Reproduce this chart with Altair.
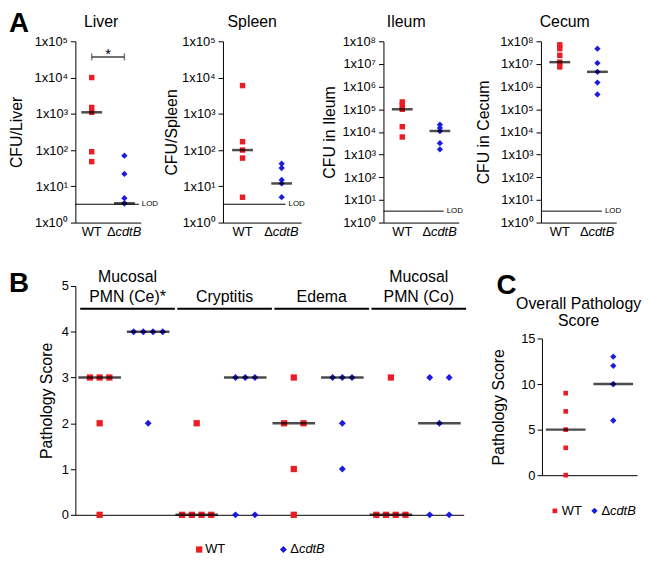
import altair as alt
import pandas as pd

FONT = "Liberation Sans"
RED = "#ec1c24"
BLUE = "#1a1ae0"

strains = ["WT", "ΔcdtB"]

# ---------------- Panel A: CFU (log scale) ----------------
organs = ["Liver", "Spleen", "Ileum", "Cecum"]
cfu_axis_titles = ["CFU/Liver", "CFU/Spleen", "CFU in Ileum", "CFU in Cecum"]
cfu_top_exponents = [5, 5, 8, 8]
wt_liver = [1.0e4, 1.5e3, 1.1e3, 90, 48]
dc_liver = [70, 22, 4.7, 3.4, 3.4]
wt_spleen = [6.0e3, 170, 100, 60, 5]
dc_spleen = [42, 32, 15, 12, 5]
wt_ileum = [2.1e5, 1.5e5, 1.0e5, 1.7e4, 6.0e3]
dc_ileum = [2.1e4, 1.5e4, 1.1e4, 3.2e3, 1.7e3]
wt_cecum = [7.0e7, 4.7e7, 2.4e7, 1.2e7, 7.4e6]
dc_cecum = [4.7e7, 1.1e7, 4.5e6, 1.5e6, 4.5e5]
median_liver = [1.1e3, 3.4]
median_spleen = [100, 12]
median_ileum = [1.0e5, 1.1e4]
median_cecum = [1.2e7, 4.5e6]
lod_cfu = 3.2
lod_line_end = [1.44, 1.1, 1.1, 1.12]
liver_sig_level = 3.7e4

# ---------------- Panel B: pathology scores ----------------
categories = [["Mucosal", "PMN (Ce)*"], ["Cryptitis"], ["Edema"], ["Mucosal", "PMN (Co)"]]
wt_scores = [[3, 3, 3, 2, 0], [2, 0, 0, 0, 0], [3, 2, 2, 1, 0], [3, 0, 0, 0, 0]]
dc_scores = [[4, 4, 4, 4, 2], [3, 3, 3, 0, 0], [3, 3, 3, 2, 1], [3, 3, 2, 0, 0]]
header_level = 4.5

# ---------------- Panel C: overall pathology ----------------
wt_overall = [9, 7, 5, 3, 0]
dc_overall = [13, 12, 10, 10, 6]

SUP_EXPR = ("'1x10' + ['\u2070','\u00b9','\u00b2','\u00b3','\u2074','\u2075',"
            "'\u2076','\u2077','\u2078'][round(log(datum.value)/LN10)]")


def text_mark(**kw):
    base = dict(font=FONT, color="black")
    base.update(kw)
    return alt.Chart(pd.DataFrame({"d": [0]})).mark_text(**base)


def strain_labels(X, height, size=13):
    lab = pd.DataFrame({"pos": [0, 1, 1], "t": ["WT", "Δ", "cdtB"]})
    wt = alt.Chart(lab).transform_filter("datum.t == 'WT'").mark_text(
        font=FONT, fontSize=size, color="black", align="center", baseline="alphabetic"
    ).encode(x=X, y=alt.value(height + 14), text="t:N")
    de = alt.Chart(lab).transform_filter("datum.t == 'Δ'").mark_text(
        font=FONT, fontSize=size, color="black", align="right", baseline="alphabetic", dx=-9
    ).encode(x=X, y=alt.value(height + 14), text="t:N")
    it = alt.Chart(lab).transform_filter("datum.t == 'cdtB'").mark_text(
        font=FONT, fontSize=size, color="black", align="left", baseline="alphabetic", dx=-9,
        fontStyle="italic"
    ).encode(x=X, y=alt.value(height + 14), text="t:N")
    return [wt, de, it]


def cfu_panel(i, wt, dc, med, width, title_dx, title_pad, height=183):
    top_exp = cfu_top_exponents[i]
    X = alt.X("pos:Q", scale=alt.Scale(domain=[-0.5, 1.5], nice=False, zero=False),
              axis=alt.Axis(labels=False, ticks=False, title=None, grid=False, domainColor="black"))
    Y = alt.Y("cfu:Q", scale=alt.Scale(type="log", domain=[1, 10 ** top_exp], nice=False),
              axis=alt.Axis(values=[10 ** k for k in range(top_exp + 1)], labelExpr=SUP_EXPR,
                            title=cfu_axis_titles[i], titlePadding=title_pad, tickSize=5,
                            labelFontSize=13, titleFontSize=16, labelPadding=3, grid=False))
    wt_df = pd.DataFrame({"pos": [0] * len(wt), "cfu": wt})
    dc_df = pd.DataFrame({"pos": [1] * len(dc), "cfu": dc})
    med_df = pd.DataFrame({"pos": [0, 1], "cfu": med})
    lod_df = pd.DataFrame({"pos": [-0.5], "pos2": [lod_line_end[i]], "cfu": [lod_cfu],
                           "lab_pos": [lod_line_end[i]], "t": ["LOD"]})
    layers = [
        alt.Chart(wt_df).mark_point(shape="square", filled=True, size=30, color=RED, opacity=1)
        .encode(x=X, y=Y),
        alt.Chart(dc_df).mark_point(shape="diamond", filled=True, size=40, color=BLUE, opacity=1)
        .encode(x=X, y=Y),
        alt.Chart(lod_df).mark_rule(color="black", strokeWidth=1).encode(x=X, x2="pos2:Q", y=Y),
        alt.Chart(lod_df).mark_text(font=FONT, fontSize=8, align="left", baseline="middle", dx=3,
                                    color="black")
        .encode(x=alt.X("lab_pos:Q"), y=Y, text="t:N"),
        alt.Chart(med_df).mark_tick(orient="horizontal", size=21, thickness=2.5, color="black")
        .encode(x=X, y=Y),
    ]
    layers += strain_labels(X, height)
    if i == 0:
        sig = pd.DataFrame({"pos": [0], "pos2": [1], "cfu": [liver_sig_level], "mid": [0.5], "t": ["*"]})
        caps = pd.DataFrame({"pos": [0, 1], "cfu": [liver_sig_level, liver_sig_level]})
        layers += [
            alt.Chart(sig).mark_rule(color="#444", strokeWidth=1.5).encode(x=X, x2="pos2:Q", y=Y),
            alt.Chart(caps).mark_tick(orient="vertical", size=7, thickness=1.5, color="#444")
            .encode(x=X, y=Y),
            alt.Chart(sig).mark_text(font=FONT, fontSize=15, baseline="alphabetic", dy=2, color="black")
            .encode(x=alt.X("mid:Q"), y=Y, text="t:N"),
        ]
    return alt.layer(*layers).properties(
        width=width, height=height,
        title=alt.TitleParams(organs[i], font=FONT, fontSize=16, fontWeight="normal", frame="group",
                              anchor="middle", dx=title_dx, offset=5, color="black"),
    )


def pathology_panel(width=392, height=231):
    STEP = 0.2
    pts, meds, heads = [], [], []
    for g, cat in enumerate(categories):
        for s, scores in enumerate([wt_scores[g], dc_scores[g]]):
            slot = 2 * g + s
            for v in sorted(set(scores)):
                n = scores.count(v)
                offs = [-1, 1] if n == 2 else [k - (n - 1) / 2 for k in range(n)]
                for o in offs:
                    pts.append({"pos": slot + o * STEP, "score": v, "strain": strains[s]})
            meds.append({"pos": slot, "score": float(pd.Series(scores).median())})
        heads.append({"pos": 2 * g - 0.4, "pos2": 2 * g + 1.55, "mid": 2 * g + 0.575,
                      "score": header_level, "low": cat[-1],
                      "high": cat[0] if len(cat) > 1 else ""})
    pts = pd.DataFrame(pts)
    X = alt.X("pos:Q", scale=alt.Scale(domain=[-0.5, 7.5], nice=False, zero=False),
              axis=alt.Axis(labels=False, ticks=False, title=None, grid=False, domainColor="black"))
    Y = alt.Y("score:Q", scale=alt.Scale(domain=[0, 5], nice=False),
              axis=alt.Axis(values=[0, 1, 2, 3, 4, 5], format="d", title="Pathology Score",
                            titlePadding=7, tickSize=5, labelFontSize=13, titleFontSize=16, grid=False))
    heads = pd.DataFrame(heads)
    layers = [
        alt.Chart(pts[pts.strain == "WT"]).mark_point(shape="square", filled=True, size=40, color=RED,
                                                      opacity=1).encode(x=X, y=Y),
        alt.Chart(pts[pts.strain != "WT"]).mark_point(shape="diamond", filled=True, size=48, color=BLUE,
                                                      opacity=1).encode(x=X, y=Y),
        alt.Chart(pd.DataFrame(meds)).mark_tick(orient="horizontal", size=43, thickness=2.5, color="black")
        .encode(x=X, y=Y),
        alt.Chart(heads).mark_rule(color="black", strokeWidth=2).encode(x=X, x2="pos2:Q", y=Y),
        alt.Chart(heads).mark_text(font=FONT, fontSize=16, baseline="bottom", dy=-4, color="black")
        .encode(x=alt.X("mid:Q"), y=Y, text="low:N"),
        alt.Chart(heads).mark_text(font=FONT, fontSize=16, baseline="bottom", dy=-24, color="black")
        .encode(x=alt.X("mid:Q"), y=Y, text="high:N"),
        # panel letters (kept in this panel so they do not push the small-panel titles)
        text_mark(text="A", fontSize=28, fontWeight="bold", align="left", baseline="top")
        .encode(x=alt.value(-67), y=alt.value(-278)),
        text_mark(text="B", fontSize=28, fontWeight="bold", align="left", baseline="top")
        .encode(x=alt.value(-67), y=alt.value(-16)),
        text_mark(text="C", fontSize=28, fontWeight="bold", align="left", baseline="top")
        .encode(x=alt.value(425), y=alt.value(-14)),
        # legend
        alt.Chart(pd.DataFrame({"d": [0]})).mark_point(shape="square", filled=True, size=40, color=RED,
                                                       opacity=1)
        .encode(x=alt.value(125), y=alt.value(266)),
        text_mark(text="WT", fontSize=13, align="left", baseline="middle")
        .encode(x=alt.value(131), y=alt.value(266)),
        alt.Chart(pd.DataFrame({"d": [0]})).mark_point(shape="diamond", filled=True, size=48, color=BLUE,
                                                       opacity=1)
        .encode(x=alt.value(210), y=alt.value(266)),
        text_mark(text="Δ", fontSize=13, align="left", baseline="middle")
        .encode(x=alt.value(217), y=alt.value(266)),
        text_mark(text="cdtB", fontSize=13, align="left", baseline="middle", fontStyle="italic")
        .encode(x=alt.value(225.7), y=alt.value(266)),
    ]
    return alt.layer(*layers).properties(width=width, height=height)


def overall_panel(width=96, height=138):
    X = alt.X("pos:Q", scale=alt.Scale(domain=[-0.5, 1.5], nice=False, zero=False),
              axis=alt.Axis(labels=False, ticks=False, title=None, grid=False, domainColor="black"))
    Y = alt.Y("score:Q", scale=alt.Scale(domain=[0, 15], nice=False),
              axis=alt.Axis(values=[0, 5, 10, 15], format="d", title="Pathology Score",
                            titlePadding=14, tickSize=5, labelFontSize=13, titleFontSize=16, grid=False))
    wt_df = pd.DataFrame({"pos": [0] * len(wt_overall), "score": wt_overall})
    dc_df = pd.DataFrame({"pos": [1] * len(dc_overall), "score": dc_overall})
    med_df = pd.DataFrame({"pos": [0, 1], "score": [float(pd.Series(wt_overall).median()),
                                                    float(pd.Series(dc_overall).median())]})
    layers = [
        alt.Chart(wt_df).mark_point(shape="square", filled=True, size=22, color=RED, opacity=1)
        .encode(x=X, y=Y),
        alt.Chart(dc_df).mark_point(shape="diamond", filled=True, size=40, color=BLUE, opacity=1)
        .encode(x=X, y=Y),
        alt.Chart(med_df).mark_tick(orient="horizontal", size=40, thickness=2.5, color="black")
        .encode(x=X, y=Y),
        alt.Chart(pd.DataFrame({"d": [0]})).mark_point(shape="square", filled=True, size=22, color=RED,
                                                       opacity=1)
        .encode(x=alt.value(13), y=alt.value(174)),
        text_mark(text="WT", fontSize=13, align="left", baseline="middle")
        .encode(x=alt.value(20), y=alt.value(174)),
        alt.Chart(pd.DataFrame({"d": [0]})).mark_point(shape="diamond", filled=True, size=40, color=BLUE,
                                                       opacity=1)
        .encode(x=alt.value(53), y=alt.value(174)),
        text_mark(text="Δ", fontSize=13, align="left", baseline="middle")
        .encode(x=alt.value(60), y=alt.value(174)),
        text_mark(text="cdtB", fontSize=13, align="left", baseline="middle", fontStyle="italic")
        .encode(x=alt.value(68.7), y=alt.value(174)),
    ]
    return alt.layer(*layers).properties(
        width=width, height=height,
        title=alt.TitleParams(["Overall Pathology", "Score"], font=FONT, fontSize=16, fontWeight="normal",
                              frame="group", anchor="middle", dx=-11, offset=4, lineHeight=17,
                              color="black"),
    )


a1 = cfu_panel(0, wt_liver, dc_liver, median_liver, 66, -7, 10)
a2 = cfu_panel(1, wt_spleen, dc_spleen, median_spleen, 79, -10, 2)
a3 = cfu_panel(2, wt_ileum, dc_ileum, median_ileum, 76, -15, 5)
a4 = cfu_panel(3, wt_cecum, dc_cecum, median_cecum, 76, -14, 8)

spacer = alt.Chart(pd.DataFrame({"d": [0]})).mark_point(opacity=0).encode(
    x=alt.value(0), y=alt.value(0)).properties(width=96, height=53)

ROW_A_HEIGHT = 183
row_a = alt.hconcat(a1, a2, a3, a4, spacing=83, bounds="flush")
col_c = alt.vconcat(spacer, overall_panel(), spacing=0, bounds="flush")
row_b = alt.hconcat(pathology_panel(), col_c, spacing=79, bounds="flush")

# with flush bounds a nested row counts as zero height, so the gap includes row A's plot height
chart = (
    alt.vconcat(row_a, row_b, spacing=ROW_A_HEIGHT + 64, bounds="flush")
    .properties(padding=0)
    .configure_view(strokeWidth=0)
    .configure_axis(labelFont=FONT, titleFont=FONT, labelColor="black", titleColor="black",
                    domainColor="black", tickColor="black", titleFontWeight="normal", grid=False)
    .configure_title(font=FONT)
)

chart.save("out.html", embed_options={"renderer": "svg", "actions": False})
